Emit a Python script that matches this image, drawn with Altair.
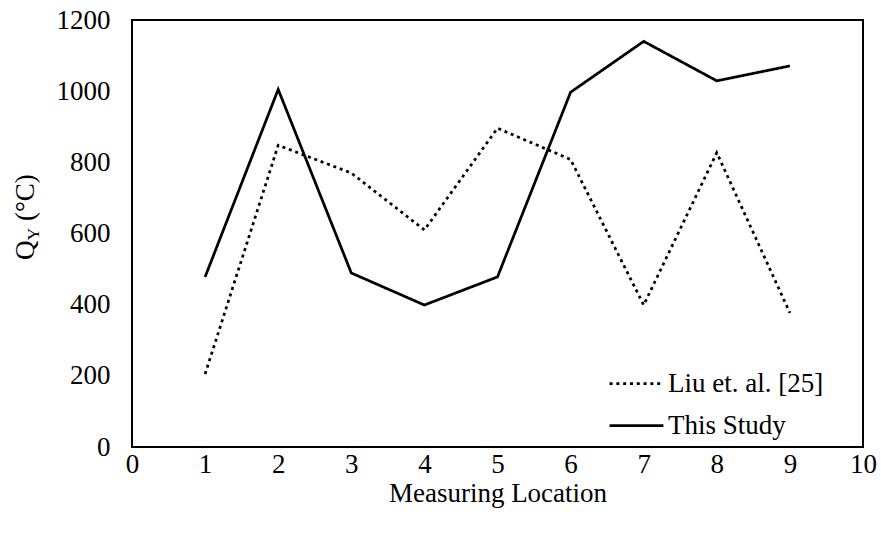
import altair as alt
import pandas as pd

# ---- data ----
locations = [1, 2, 3, 4, 5, 6, 7, 8, 9]
liu_values = [205, 848, 770, 610, 896, 808, 399, 827, 377]
study_values = [478, 1005, 489, 399, 478, 997, 1140, 1029, 1071]
series_names = ["Liu et. al. [25]", "This Study"]
x_ticks = [0, 1, 2, 3, 4, 5, 6, 7, 8, 9, 10]
y_ticks = [0, 200, 400, 600, 800, 1000, 1200]
x_title = "Measuring Location"
y_title_parts = ["Q", "Y", "(°C)"]

df = pd.DataFrame({
    "loc": locations + locations,
    "val": liu_values + study_values,
    "series": [series_names[0]] * len(locations) + [series_names[1]] * len(locations),
})

FONT = "Liberation Serif"
FS = 27
W, H = 731, 427

lines = alt.Chart(df).mark_line(color="black", strokeWidth=2.75).encode(
    x=alt.X("loc:Q",
            scale=alt.Scale(domain=[0, 10], nice=False, zero=False),
            axis=alt.Axis(values=x_ticks, title=x_title, grid=False, ticks=False, domain=False,
                          format="d",
                          labelFont=FONT, labelFontSize=FS, labelColor="black", labelPadding=4,
                          labelFlush=False, titleFont=FONT, titleFontSize=FS, titleFontWeight="normal",
                          titleColor="black", titlePadding=3)),
    y=alt.Y("val:Q",
            scale=alt.Scale(domain=[0, 1200], nice=False),
            axis=alt.Axis(values=y_ticks, title=None, grid=False, ticks=False, domain=False,
                          format="d",
                          labelFont=FONT, labelFontSize=FS, labelColor="black", labelPadding=22,
                          labelFlush=False)),
    strokeDash=alt.StrokeDash("series:N",
                              scale=alt.Scale(domain=series_names, range=[[3, 3.8], [1, 0]]),
                              legend=alt.Legend(title=None, orient="none", legendX=476, legendY=335,
                                                symbolType="stroke", symbolSize=2900,
                                                symbolStrokeWidth=2.75, symbolStrokeColor="black",
                                                labelFont=FONT, labelFontSize=FS, labelColor="black",
                                                labelLimit=400, rowPadding=0, labelOffset=3)),
)

# y-axis title with subscript, built from rotated text pieces
q_w = 0.722 * FS
sub_fs = 0.65 * FS
y_w = 0.722 * sub_fs
gap = 0.25 * FS
y0 = 240
tx = -106

title_q = alt.Chart(pd.DataFrame({"t": [y_title_parts[0]]})).mark_text(
    font=FONT, fontSize=FS, angle=270, align="left", baseline="middle", color="black"
).encode(text="t:N", x=alt.value(tx), y=alt.value(y0))

title_sub = alt.Chart(pd.DataFrame({"t": [y_title_parts[1]]})).mark_text(
    font=FONT, fontSize=sub_fs, angle=270, align="left", baseline="middle", color="black"
).encode(text="t:N", x=alt.value(tx + 0.3 * FS), y=alt.value(y0 - q_w))

title_unit = alt.Chart(pd.DataFrame({"t": [y_title_parts[2]]})).mark_text(
    font=FONT, fontSize=FS, angle=270, align="left", baseline="middle", color="black"
).encode(text="t:N", x=alt.value(tx), y=alt.value(y0 - q_w - y_w - gap))

chart = alt.layer(lines, title_q, title_sub, title_unit).properties(
    width=W, height=H,
    autosize=alt.AutoSizeParams(type="none"),
    padding={"left": 132, "top": 20, "right": 18, "bottom": 92},
    background="white",
).configure_view(stroke="black", strokeWidth=2)

chart.save("out.html", embed_options={"renderer": "svg", "actions": False})
